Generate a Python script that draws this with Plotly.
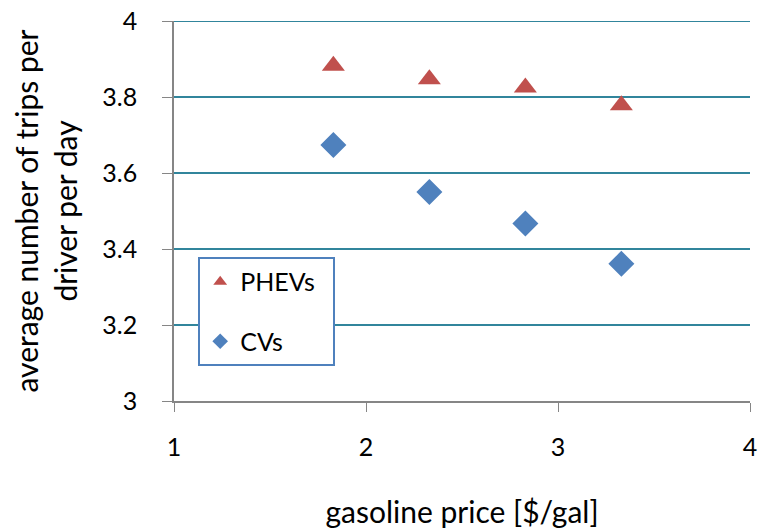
import plotly.graph_objects as go

gas_price = [1.83, 2.33, 2.83, 3.33]
phev_trips = [3.882, 3.847, 3.825, 3.778]
cv_trips = [3.674, 3.55, 3.467, 3.361]

FONT = "Lato"
NB = "\u00a0"
fig = go.Figure()
fig.add_trace(go.Scatter(x=gas_price, y=phev_trips, mode="markers", name="PHEVs" + NB * 2,
                         legendgroup="a",
                         marker=dict(symbol="triangle-up", size=20, color="#C0504D",
                                     line=dict(width=0))))
fig.add_trace(go.Scatter(x=gas_price, y=cv_trips, mode="markers", name="CVs",
                         legendgroup="b",
                         marker=dict(symbol="diamond", size=20, color="#4F81BD",
                                     line=dict(width=0))))

# gridline at top of range (Plotly hides the one at the edge)
fig.add_shape(type="line", xref="paper", x0=0, x1=1, yref="y", y0=4, y1=4,
              line=dict(color="#31859C", width=2), layer="below")

fig.update_layout(
    width=762, height=529,
    margin=dict(l=174, r=12, t=21, b=128, autoexpand=False),
    paper_bgcolor="white", plot_bgcolor="white",
    font=dict(family=FONT, size=25, color="black"),
    showlegend=True,
    legend=dict(x=0.042, y=0.379, xanchor="left", yanchor="top",
                bordercolor="#4F81BD", borderwidth=2, bgcolor="white",
                font=dict(size=25), tracegroupgap=24,
                itemsizing="constant"),
    xaxis=dict(range=[1, 4], dtick=1, showgrid=False, zeroline=False,
               showline=True, linecolor="#868686", linewidth=1.5,
               ticks="outside", ticklen=9, tickcolor="#868686",
               ticklabelstandoff=14, automargin=False,
               title=dict(text="gasoline price [$/gal]", standoff=44)),
    yaxis=dict(range=[3, 4], dtick=0.2, showgrid=True, gridcolor="#31859C",
               gridwidth=2, zeroline=False,
               showline=True, linecolor="#868686", linewidth=1.5,
               ticks="outside", ticklen=10, tickcolor="#868686",
               ticklabelstandoff=20, tickformat="~g", automargin=False,
               title=dict(text="average number of trips per<br>driver per day",
                          standoff=16)),
)
fig.write_html("out.html")
